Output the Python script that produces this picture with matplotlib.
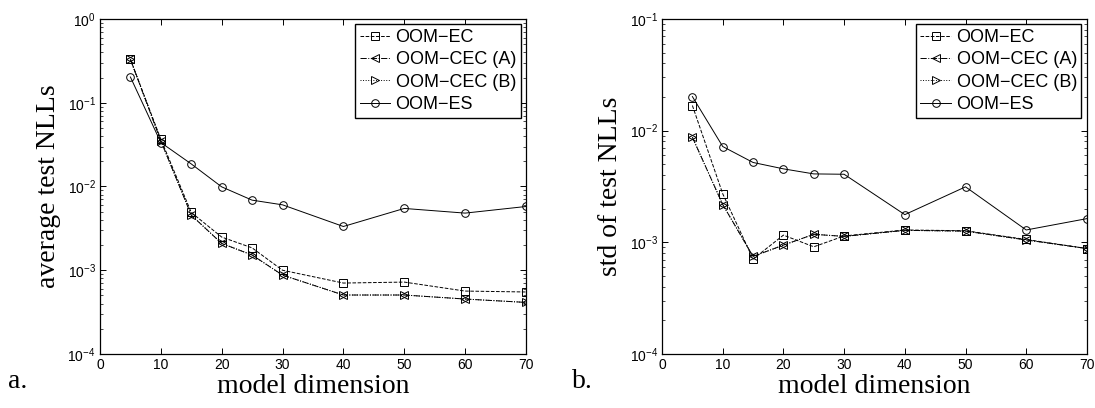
import numpy as np
import matplotlib.pyplot as plt
import matplotlib.ticker as ticker

plt.rcParams["font.family"] = ["Liberation Sans", "DejaVu Sans"]
plt.rcParams["mathtext.fontset"] = "custom"
plt.rcParams["mathtext.rm"] = "Liberation Sans"

# model dimensions
dims = [5, 10, 15, 20, 25, 30, 40, 50, 60, 70]

# a. average test NLLs
avg_ec = [0.33, 0.0367, 0.0049, 0.00249, 0.00185, 0.0010, 0.000703, 0.000722, 0.000564, 0.00055]
avg_cec_a = [0.33, 0.0351, 0.00455, 0.00209, 0.00152, 0.000875, 0.000506, 0.000506, 0.000453, 0.000413]
avg_cec_b = [0.33, 0.0351, 0.00455, 0.00209, 0.00152, 0.000875, 0.000506, 0.000506, 0.000453, 0.000413]
avg_es = [0.203, 0.0335, 0.0186, 0.0099, 0.00687, 0.00604, 0.00333, 0.00547, 0.00481, 0.00577]

# b. std of test NLLs
std_ec = [0.0168, 0.00272, 0.000708, 0.00116, 0.000912, 0.00114, 0.00129, 0.00127, 0.00106, 0.00088]
std_cec_a = [0.00873, 0.00218, 0.000748, 0.000944, 0.00118, 0.00113, 0.00128, 0.00126, 0.00105, 0.00088]
std_cec_b = [0.00873, 0.00218, 0.000748, 0.000944, 0.00118, 0.00113, 0.00128, 0.00126, 0.00105, 0.00088]
std_es = [0.0202, 0.00721, 0.00519, 0.00455, 0.0041, 0.00407, 0.00177, 0.00314, 0.00129, 0.00163]

labels = ["OOM\u2212EC", "OOM\u2212CEC (A)", "OOM\u2212CEC (B)", "OOM\u2212ES"]
styles = [("--", "s"), ("-.", "<"), (":", ">"), ("-", "o")]

fig = plt.figure(figsize=(10.95, 4.08), dpi=100)
ax1 = fig.add_axes([0.0913, 0.1324, 0.389, 0.821])
ax2 = fig.add_axes([0.6046, 0.1324, 0.388, 0.821])


def draw(ax, series, ylo, yhi, ylabel):
    for y, lab, (ls, mk) in zip(series, labels, styles):
        ax.plot(dims, y, color="black", linestyle=ls, marker=mk, markersize=5.5,
                markerfacecolor="none", markeredgewidth=0.7, linewidth=0.7, label=lab)
    ax.set_yscale("log")
    ax.set_xlim(0, 70)
    ax.set_ylim(ylo, yhi)
    ax.set_xticks(np.arange(0, 71, 10))
    exps = range(int(np.log10(ylo)), int(np.log10(yhi)) + 1)
    ax.yaxis.set_major_locator(ticker.FixedLocator([10.0 ** e for e in exps]))
    ax.set_yticklabels([r"$\mathregular{10^{%d}}$" % e for e in exps])
    ax.yaxis.set_minor_locator(ticker.LogLocator(base=10, subs=np.arange(2, 10)))
    ax.yaxis.set_minor_formatter(ticker.NullFormatter())
    ax.tick_params(which="both", direction="in", top=True, right=True, labelsize=10, pad=3)
    ax.tick_params(which="major", length=4.5, width=0.7)
    ax.tick_params(which="minor", length=2.2, width=0.5)
    for sp in ax.spines.values():
        sp.set_linewidth(0.9)
    ax.set_xlabel("model dimension", fontsize=20, family="Liberation Serif", labelpad=1)
    ax.set_ylabel(ylabel, fontsize=20, family="Liberation Serif", labelpad=5)
    leg = ax.legend(loc="upper right", fontsize=13, fancybox=False, framealpha=1,
                    edgecolor="black", handlelength=1.7, handletextpad=0.3,
                    borderpad=0.25, labelspacing=0.3, borderaxespad=0.3)
    leg.get_frame().set_linewidth(1.0)


draw(ax1, [avg_ec, avg_cec_a, avg_cec_b, avg_es], 1e-4, 1e0, "average test NLLs")
draw(ax2, [std_ec, std_cec_a, std_cec_b, std_es], 1e-4, 1e-1, "std of test NLLs")

fig.text(0.007, 0.05, "a.", fontsize=20, family="Liberation Serif")
fig.text(0.522, 0.05, "b.", fontsize=20, family="Liberation Serif")

fig.savefig("out.png", dpi=100)
